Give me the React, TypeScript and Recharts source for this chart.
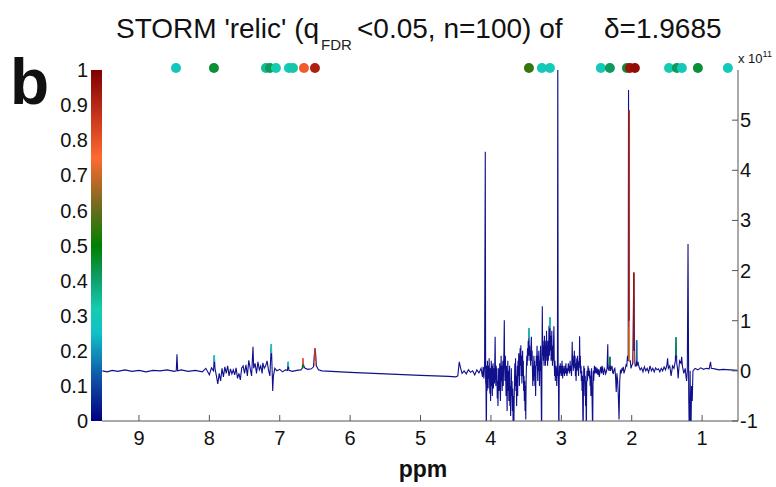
import { ComposedChart, Line, Scatter, XAxis, YAxis } from "recharts"

// ppm, intensity (x 10^11)
const spectrum: [number, number][] = [
  [9.52, 0.0], [9.45, -0.02], [9.38, 0.01], [9.3, -0.01], [9.2, 0.02], [9.1, -0.01], [9.0, 0.01],
  [8.9, -0.02], [8.8, 0.01], [8.7, 0.0], [8.6, 0.02], [8.5, -0.01], [8.47, 0.0], [8.46, 0.33],
  [8.45, 0.0], [8.4, 0.02], [8.3, -0.01], [8.2, 0.01], [8.1, -0.02], [8.05, 0.05], [8.0, -0.08],
  [7.97, 0.06], [7.94, 0.0], [7.93, 0.31], [7.92, 0.05], [7.9, -0.1], [7.88, -0.26], [7.86, -0.05],
  [7.84, -0.2], [7.82, 0.05], [7.8, -0.12], [7.78, 0.08], [7.76, -0.05], [7.74, 0.1], [7.72, -0.1],
  [7.7, 0.04], [7.68, -0.06], [7.66, 0.02], [7.64, -0.08], [7.62, 0.06], [7.6, -0.15], [7.58, -0.05],
  [7.56, -0.18], [7.54, 0.06], [7.52, 0.1], [7.5, -0.05], [7.48, 0.12], [7.46, -0.1], [7.44, 0.21],
  [7.42, 0.05], [7.4, -0.1], [7.38, 0.48], [7.37, 0.05], [7.35, 0.15], [7.33, -0.05], [7.31, 0.18],
  [7.29, 0.02], [7.27, 0.1], [7.25, -0.05], [7.24, 0.16], [7.22, 0.05], [7.2, 0.1], [7.18, 0.2],
  [7.16, 0.02], [7.14, -0.1], [7.12, 0.53], [7.11, 0.1], [7.1, -0.4], [7.09, -0.1], [7.07, 0.05],
  [7.04, 0.0], [7.0, 0.03], [6.96, -0.02], [6.92, 0.02], [6.89, 0.01], [6.88, 0.18], [6.87, 0.01],
  [6.82, -0.01], [6.76, 0.01], [6.7, 0.02], [6.68, 0.05], [6.67, 0.25], [6.66, 0.1], [6.64, 0.05],
  [6.6, 0.03], [6.55, 0.04], [6.52, 0.08], [6.51, 0.3], [6.5, 0.45], [6.49, 0.35], [6.48, 0.1],
  [6.45, 0.02], [6.4, 0.0], [6.0, -0.03], [5.5, -0.06], [5.0, -0.09], [4.6, -0.11], [4.5, -0.12],
  [4.47, -0.1], [4.45, 0.18], [4.43, 0.05], [4.41, -0.05], [4.38, 0.0], [4.35, -0.06], [4.32, 0.02],
  [4.29, -0.03], [4.26, 0.0], [4.23, -0.08], [4.2, 0.02], [4.17, -0.04], [4.14, 0.05], [4.12, -0.12],
  [4.11, 0.08], [4.1, -0.15], [4.09, 0.1], [4.08, 4.37], [4.075, -0.2], [4.07, -0.3], [4.065, -1.5],
  [4.06, 0.1], [4.055, -0.4], [4.05, 0.2], [4.045, -0.2], [4.04, -0.35], [4.035, 0.1], [4.03, -0.15],
  [4.025, 0.25], [4.02, -0.1], [4.015, -0.45], [4.01, 0.05], [4.005, -0.6], [4.0, -0.2], [3.995, 0.2],
  [3.99, -0.3], [3.985, 0.1], [3.98, -0.5], [3.975, -0.1], [3.97, 0.15], [3.965, -0.35], [3.96, -0.1],
  [3.955, 0.05], [3.95, -0.25], [3.945, 0.2], [3.94, 0.68], [3.935, -0.1], [3.93, -0.3], [3.925, 0.1],
  [3.92, -0.2], [3.915, 0.05], [3.91, -0.55], [3.905, -0.2], [3.9, -0.7], [3.895, -0.3], [3.89, 0.05],
  [3.885, -0.4], [3.88, -0.15], [3.875, 0.15], [3.87, -0.25], [3.865, -0.6], [3.86, -0.1], [3.855, 0.3],
  [3.85, -0.2], [3.845, 0.1], [3.84, -0.4], [3.835, -0.05], [3.83, 0.2], [3.825, -0.3], [3.82, 0.1],
  [3.815, 0.4], [3.81, 1.01], [3.805, 0.1], [3.8, -0.2], [3.795, 0.3], [3.79, -0.1], [3.785, -0.5],
  [3.78, 0.1], [3.775, -0.3], [3.77, -0.8], [3.765, -0.2], [3.76, 0.2], [3.755, -0.4], [3.75, 0.0],
  [3.745, -0.6], [3.74, -0.2], [3.735, 0.1], [3.73, -0.7], [3.725, -0.3], [3.72, -0.9], [3.715, -0.4],
  [3.71, 0.05], [3.705, -0.5], [3.7, -0.2], [3.695, -0.8], [3.69, -0.35], [3.685, -1.1], [3.68, -0.5],
  [3.675, -1.3], [3.67, -0.6], [3.665, -0.2], [3.66, 0.15], [3.655, -0.3], [3.65, 0.25], [3.645, -0.4],
  [3.64, -0.1], [3.635, -0.7], [3.63, -0.2], [3.625, 0.1], [3.62, -0.5], [3.615, 0.2], [3.61, -0.1],
  [3.605, 0.35], [3.6, 0.0], [3.595, -0.3], [3.59, 0.2], [3.585, 0.45], [3.58, 0.1], [3.575, 0.51],
  [3.57, -0.1], [3.565, 0.3], [3.56, -0.25], [3.555, 0.1], [3.55, 0.4], [3.545, -0.1], [3.54, 0.2],
  [3.535, -0.4], [3.53, -0.1], [3.525, -0.6], [3.52, -0.2], [3.515, -0.8], [3.51, -0.3], [3.505, -0.97],
  [3.5, -0.2], [3.495, 0.1], [3.49, 0.3], [3.485, 0.1], [3.48, 0.45], [3.475, 0.2], [3.47, 0.6],
  [3.465, 0.3], [3.46, 0.85], [3.455, 0.3], [3.45, 0.5], [3.445, 0.2], [3.44, 0.4], [3.435, 0.1],
  [3.43, 0.5], [3.425, 0.68], [3.42, 0.2], [3.415, 0.4], [3.41, 0.0], [3.405, -0.3], [3.4, 0.1],
  [3.395, -0.2], [3.39, 0.3], [3.385, -0.1], [3.38, 0.2], [3.375, -0.3], [3.37, 0.1], [3.365, -0.5],
  [3.36, 0.0], [3.355, 0.3], [3.35, 0.1], [3.345, 0.5], [3.34, 0.2], [3.335, -0.2], [3.33, 0.3],
  [3.325, 0.0], [3.32, 0.4], [3.315, 0.1], [3.31, -0.3], [3.305, 0.2], [3.3, 0.0], [3.295, 0.5],
  [3.29, 0.1], [3.285, -0.6], [3.28, -1.4], [3.275, 0.2], [3.27, 1.29], [3.265, 0.3], [3.26, 0.6],
  [3.255, 0.2], [3.25, 0.5], [3.245, 0.1], [3.24, 0.7], [3.235, 0.3], [3.23, 0.5], [3.225, 0.1],
  [3.22, 0.6], [3.215, 0.2], [3.21, 0.8], [3.205, 0.3], [3.2, 0.5], [3.195, 0.1], [3.19, 0.6],
  [3.185, 0.2], [3.18, 0.4], [3.175, 0.9], [3.17, 0.3], [3.165, 0.6], [3.16, 1.07], [3.155, 0.4],
  [3.15, 0.7], [3.145, 0.2], [3.14, 0.5], [3.135, 0.8], [3.13, 0.3], [3.125, 0.1], [3.12, 0.5],
  [3.115, 0.2], [3.11, 0.6], [3.105, 0.89], [3.1, 0.1], [3.095, -0.1], [3.09, 0.2], [3.085, -0.2],
  [3.08, 0.1], [3.075, -0.1], [3.07, 0.05], [3.065, -0.3], [3.06, 0.1], [3.055, -0.1], [3.05, 6.5],
  [3.045, 0.1], [3.04, -0.3], [3.035, -1.5], [3.03, -0.2], [3.025, 0.1], [3.02, -0.1], [3.015, 0.15],
  [3.01, -0.05], [3.0, 0.1], [2.995, -0.1], [2.99, 0.2], [2.985, 0.0], [2.98, -0.15], [2.975, 0.1],
  [2.97, -0.05], [2.96, 0.05], [2.955, -0.1], [2.95, 0.1], [2.94, -0.05], [2.935, 0.15], [2.93, 0.0],
  [2.92, -0.1], [2.915, 0.05], [2.91, -0.05], [2.9, 0.15], [2.895, 0.0], [2.89, 0.1], [2.88, -0.05],
  [2.875, 0.2], [2.87, 0.0], [2.86, 0.1], [2.855, -0.1], [2.85, 0.2], [2.845, 0.58], [2.84, 0.1],
  [2.835, 0.3], [2.83, 0.0], [2.825, 0.2], [2.82, 0.05], [2.815, 0.4], [2.81, 0.1], [2.805, 0.3],
  [2.8, -0.1], [2.795, 0.15], [2.79, -0.2], [2.785, 0.1], [2.78, 0.25], [2.775, 0.0], [2.77, 0.3],
  [2.765, 0.05], [2.76, 0.15], [2.755, -0.1], [2.75, 0.2], [2.745, 0.05], [2.74, 0.69], [2.735, 0.1],
  [2.73, 0.3], [2.725, -0.05], [2.72, 0.1], [2.715, -0.2], [2.71, 0.0], [2.705, -0.4], [2.7, -0.1],
  [2.695, -0.8], [2.69, -1.3], [2.685, -0.3], [2.68, 0.1], [2.675, -0.2], [2.67, 0.05], [2.665, -0.5],
  [2.66, -0.1], [2.655, -0.7], [2.65, -0.2], [2.645, -1.4], [2.64, -0.3], [2.635, 0.0], [2.63, -0.2],
  [2.62, 0.1], [2.615, -0.1], [2.61, 0.05], [2.6, -0.15], [2.595, 0.0], [2.59, -0.3], [2.585, -0.1],
  [2.58, -0.5], [2.575, -0.2], [2.57, 0.05], [2.565, -0.4], [2.56, -0.8], [2.555, -1.3], [2.55, -0.3],
  [2.545, 0.0], [2.54, -0.2], [2.53, 0.1], [2.52, -0.05], [2.51, 0.08], [2.5, -0.05], [2.49, 0.05],
  [2.48, -0.08], [2.47, 0.03], [2.46, -0.12], [2.45, 0.0], [2.44, 0.08], [2.43, -0.05], [2.42, 0.1],
  [2.41, -0.02], [2.4, -0.08], [2.39, 0.05], [2.38, 0.02], [2.37, -0.06], [2.36, -0.02], [2.35, 0.05],
  [2.34, 0.53], [2.335, 0.05], [2.32, 0.0], [2.31, 0.28], [2.3, 0.0], [2.29, 0.06], [2.28, 0.1],
  [2.27, -0.04], [2.26, -0.05], [2.25, 0.03], [2.24, 0.05], [2.23, -0.1], [2.22, -0.42], [2.21, -0.05],
  [2.2, -0.2], [2.19, -0.5], [2.18, -0.97], [2.17, -0.2], [2.16, 0.02], [2.15, -0.05], [2.14, 0.04],
  [2.13, 0.02], [2.12, 0.08], [2.11, -0.05], [2.1, 0.0], [2.09, 0.05], [2.08, 0.12], [2.07, 0.1],
  [2.06, 0.3], [2.05, 0.2], [2.045, 5.6], [2.04, 0.5], [2.035, 0.2], [2.02, 0.2], [2.01, 0.05],
  [2.0, 0.1], [1.985, 0.15], [1.97, 1.96], [1.96, 0.2], [1.95, 0.1], [1.935, 0.1], [1.93, 0.61],
  [1.925, 0.1], [1.91, 0.18], [1.9, 0.1], [1.88, 0.02], [1.86, 0.06], [1.84, -0.02], [1.82, 0.08],
  [1.8, 0.0], [1.78, 0.05], [1.76, -0.03], [1.74, 0.1], [1.72, 0.0], [1.7, 0.05], [1.68, -0.02],
  [1.66, 0.06], [1.64, 0.02], [1.62, 0.04], [1.6, -0.02], [1.58, 0.05], [1.56, 0.0], [1.54, 0.08],
  [1.52, 0.02], [1.5, 0.12], [1.49, 0.25], [1.48, 0.05], [1.46, 0.1], [1.44, -0.1], [1.42, 0.1],
  [1.4, 0.05], [1.38, 0.2], [1.37, 0.67], [1.36, 0.15], [1.35, 0.05], [1.34, -0.15], [1.33, 0.05],
  [1.32, 0.2], [1.3, 0.15], [1.29, 0.28], [1.28, 0.1], [1.26, -0.05], [1.24, 0.05], [1.23, -0.1],
  [1.22, -0.2], [1.21, 0.0], [1.2, 2.53], [1.19, -0.5], [1.18, -1.5], [1.17, 0.0], [1.16, -1.5],
  [1.15, -0.3], [1.14, -0.6], [1.13, 0.0], [1.1, 0.05], [1.06, 0.02], [1.02, 0.06], [0.98, 0.03],
  [0.94, 0.05], [0.9, 0.04], [0.88, 0.18], [0.87, 0.05], [0.82, 0.04], [0.76, 0.02], [0.7, 0.03],
  [0.6, 0.02], [0.5, 0.01],
]

// coloured parts of peaks: ppm, from, to, correlation
const highlights: [number, number, number, number][] = [
  [7.93, 0.18, 0.31, 0.28],
  [7.12, 0.35, 0.53, 0.3],
  [6.88, 0.08, 0.18, 0.28],
  [6.67, 0.05, 0.12, 0.5],
  [6.67, 0.12, 0.25, 0.75],
  [6.5, 0.1, 0.2, 0.75],
  [6.5, 0.2, 0.45, 0.85],
  [3.46, 0.65, 0.85, 0.33],
  [3.16, 0.85, 1.07, 0.3],
  [2.31, 0.1, 0.28, 0.45],
  [2.04, 0.2, 0.88, 0.5],
  [2.035, 0.2, 1.0, 0.75],
  [2.035, 1.0, 5.2, 0.88],
  [1.97, 0.15, 0.4, 0.75],
  [1.97, 0.4, 1.96, 0.95],
  [1.93, 0.2, 0.61, 0.15],
  [1.37, 0.3, 0.67, 0.42],
]

// significant variables shown on top: ppm, correlation
const dots: [number, number][] = [
  [8.474, 0.28], [7.935, 0.45], [7.196, 0.35], [7.139, 0.42], [7.054, 0.32], [6.869, 0.3],
  [6.812, 0.33], [6.656, 0.78], [6.5, 0.92], [3.46, 0.55], [3.276, 0.3], [3.162, 0.3],
  [2.438, 0.3], [2.31, 0.42], [2.068, 0.45], [2.026, 0.95], [1.955, 0.97], [1.47, 0.32],
  [1.358, 0.42], [1.287, 0.3], [1.06, 0.45], [0.634, 0.3],
]

const ppmTicks = [1, 2, 3, 4, 5, 6, 7, 8, 9]
const intensityTicks = [-1, 0, 1, 2, 3, 4, 5]
const corrTicks = [0, 0.1, 0.2, 0.3, 0.4, 0.5, 0.6, 0.7, 0.8, 0.9, 1]

const cmapStops: [number, string][] = [
  [0, "#000080"], [0.12, "#1050a8"], [0.25, "#10c0c8"], [0.32, "#14ccb0"], [0.4, "#10a070"],
  [0.5, "#008000"], [0.62, "#7a6a20"], [0.75, "#ff6a30"], [0.88, "#c03018"], [1, "#800000"],
]

function cmap(r: number) {
  for (let i = 1; i < cmapStops.length; i++) {
    const [t1, c1] = cmapStops[i]
    const [t0, c0] = cmapStops[i - 1]
    if (r <= t1) {
      const f = (r - t0) / (t1 - t0)
      const a = parseInt(c0.slice(1), 16)
      const b = parseInt(c1.slice(1), 16)
      const ch = (s: number) => Math.round(((a >> s) & 255) * (1 - f) + ((b >> s) & 255) * f)
      return `rgb(${ch(16)},${ch(8)},${ch(0)})`
    }
  }
  return cmapStops[cmapStops.length - 1][1]
}

const font = "'Liberation Sans', Arial, sans-serif"
const axisColor = "#555"

const XTick = (props: any) => {
  const { x, y, payload } = props
  return (
    <g>
      <line x1={x} x2={x} y1={y} y2={y - 6} stroke={axisColor} />
      <text x={x} y={y + 24} textAnchor="middle" fontSize={20} fill="#111" fontFamily={font}>
        {payload.value}
      </text>
    </g>
  )
}

const RightTick = (props: any) => {
  const { x, y, payload } = props
  return (
    <g>
      <line x1={x - 8} x2={x - 2} y1={y} y2={y} stroke={axisColor} />
      <text x={x} y={y + 7} textAnchor="start" fontSize={20} fill="#111" fontFamily={font}>
        {payload.value}
      </text>
    </g>
  )
}

export default function App() {
  const specData = spectrum.map(([ppm, v]) => ({ ppm, v }))
  const dotData = dots.map(([ppm, r]) => ({ ppm, top: 1, r }))

  return (
    <div style={{ position: "absolute", left: 0, top: 0, width: 776, height: 487, background: "#fff" }}>
      <ComposedChart width={776} height={487} margin={{ top: 70, right: 0, bottom: 0, left: 0 }}>
        <XAxis
          type="number"
          dataKey="ppm"
          domain={[0.49, 9.525]}
          allowDataOverflow
          reversed
          ticks={ppmTicks}
          height={66}
          stroke={axisColor}
          tickSize={0}
          tickMargin={0}
          tick={XTick}
        />
        <YAxis
          yAxisId="cb"
          type="number"
          domain={[0, 1]}
          ticks={corrTicks}
          width={102}
          axisLine={false}
          tickLine={false}
          tickSize={0}
          tickMargin={14}
          tick={{ fill: "#111", fontSize: 20, fontFamily: font }}
        />
        <YAxis
          yAxisId="r"
          orientation="right"
          type="number"
          domain={[-1, 6]}
          allowDataOverflow
          ticks={intensityTicks}
          width={38}
          stroke={axisColor}
          tickSize={0}
          tickMargin={2}
          tick={RightTick}
        />
        <Line
          yAxisId="r"
          data={specData}
          dataKey="v"
          stroke="#10108c"
          strokeWidth={1.1}
          dot={false}
          isAnimationActive={false}
        />
        {highlights.map(([ppm, from, to, r], i) => (
          <Line
            key={i}
            yAxisId="r"
            data={[{ ppm, v: from }, { ppm, v: to }]}
            dataKey="v"
            stroke={cmap(r)}
            strokeWidth={1.6}
            dot={false}
            isAnimationActive={false}
          />
        ))}
        <Scatter
          yAxisId="cb"
          data={dotData}
          dataKey="top"
          isAnimationActive={false}
          shape={(p: any) => <circle cx={p.cx} cy={p.cy - 2} r={5} fill={cmap(p.payload.r)} />}
        />
      </ComposedChart>

      <svg
        width={776}
        height={487}
        style={{ position: "absolute", left: 0, top: 0, pointerEvents: "none" }}
        fontFamily={font}
      >
        <defs>
          <linearGradient id="cbar" x1="0" y1="1" x2="0" y2="0">
            {cmapStops.map(([t, c]) => (
              <stop key={t} offset={t} stopColor={c} />
            ))}
          </linearGradient>
        </defs>
        <rect x={91} y={70} width={11} height={351} fill="url(#cbar)" />
        <text x={10} y={104} fontSize={64} fontWeight="bold" fill="#111">b</text>
        <text x={116} y={38} fontSize={28} fill="#111">STORM 'relic' (q</text>
        <text x={321} y={50} fontSize={15} fill="#222">FDR</text>
        <text x={357} y={38} fontSize={28} fill="#111">&lt;0.05, n=100) of</text>
        <text x={604} y={38} fontSize={28} fill="#111">δ=1.9685</text>
        <text x={738} y={63} fontSize={13} fill="#111">
          x 10<tspan dy={-6} fontSize={9}>11</tspan>
        </text>
        <text x={423} y={477} fontSize={23} fontWeight="bold" textAnchor="middle" fill="#111">ppm</text>
      </svg>
    </div>
  )
}
